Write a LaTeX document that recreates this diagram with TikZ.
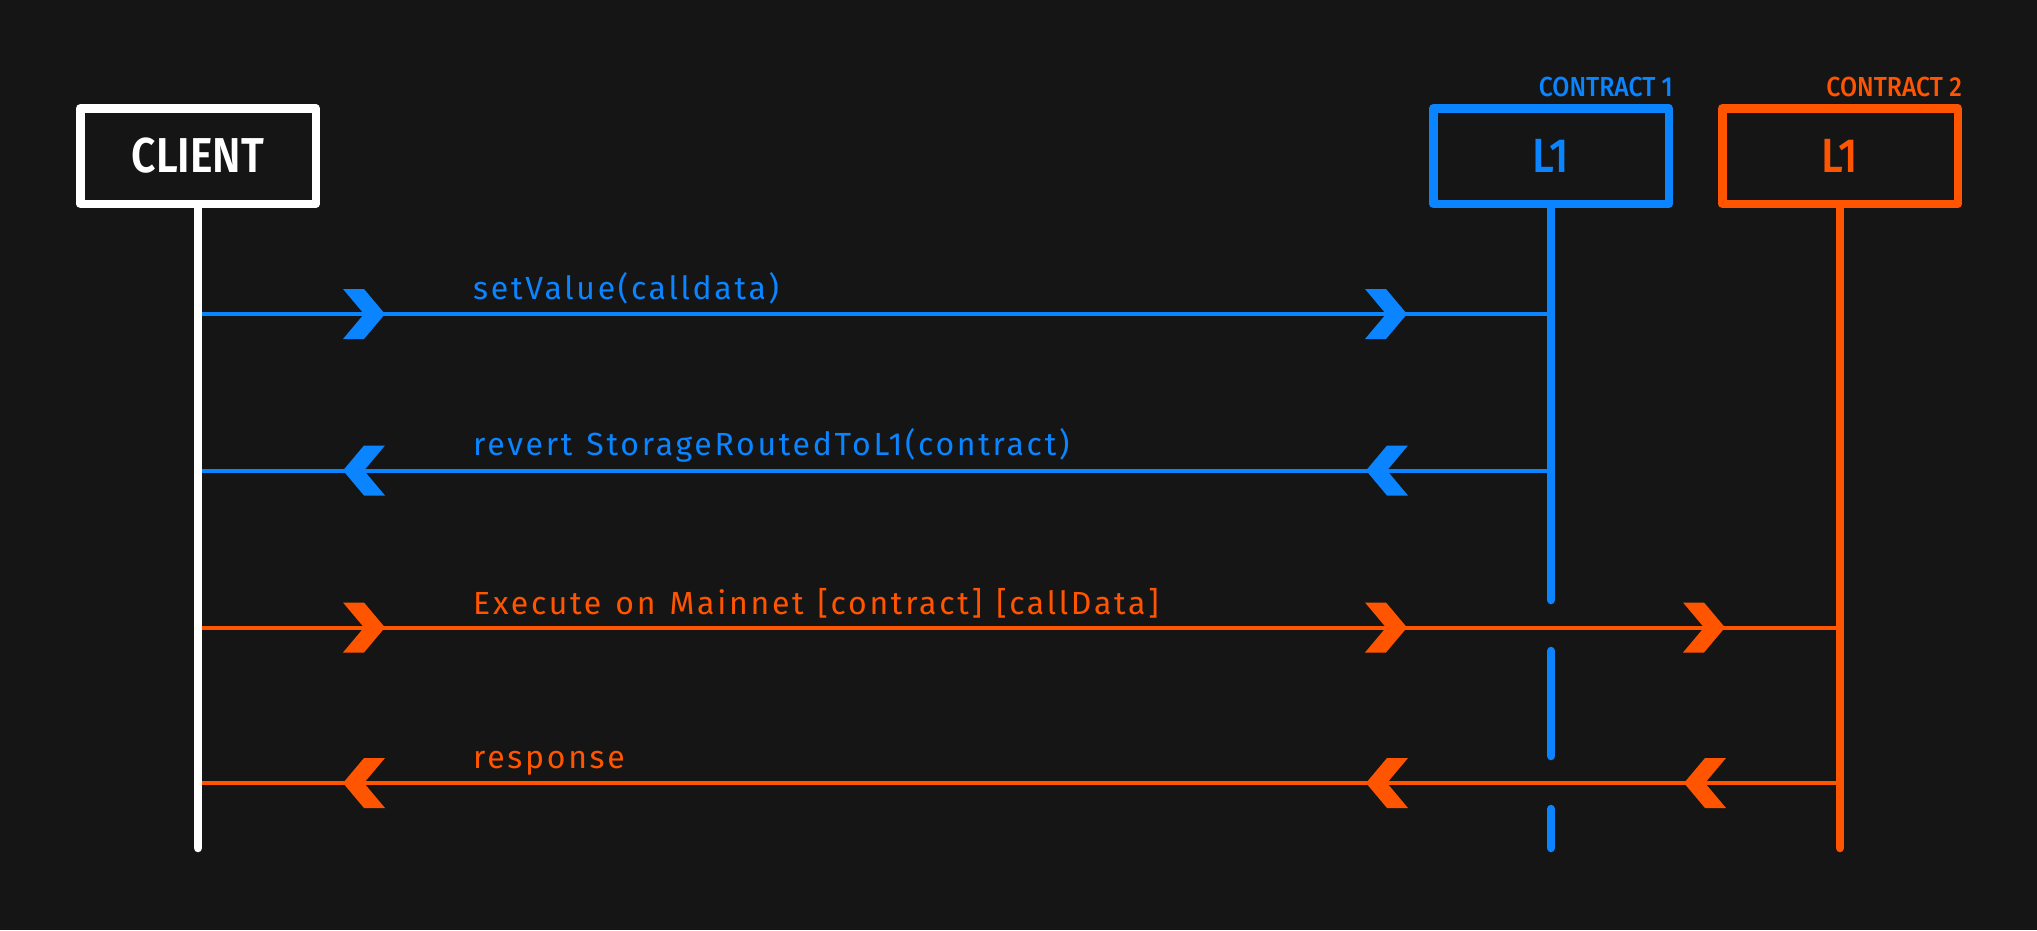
\documentclass[tikz,border=0pt]{standalone}
\usepackage{fontspec}
\setmainfont{Fira Sans}
\newfontfamily\titlefont{Fira Sans}[UprightFont=* SemiBold]
\newfontfamily\medfont{Fira Sans}[UprightFont=* Medium]
\newfontfamily\msgfont{Fira Sans}[LetterSpace=8.5, WordSpace=1.25]
\definecolor{bg}{RGB}{21,21,21}
\definecolor{cblue}{RGB}{10,132,255}
\definecolor{corange}{RGB}{255,85,0}
\begin{document}
\begin{tikzpicture}[x=1pt,y=-1pt,
  box/.style={draw, line width=8.5pt, line join=round, minimum width=235.5pt,
    minimum height=95.5pt, inner sep=0pt, fill=bg},
  life/.style={line width=8.5pt, line cap=round},
  msg/.style={line width=4pt},
  msglabel/.style={anchor=base west, inner sep=0pt, font=\msgfont\fontsize{32}{38}\selectfont},
  tag/.style={anchor=base east, inner sep=0pt, font=\medfont\fontsize{27.5}{33}\selectfont},
  chev/.pic={\fill (-42,-25) -- (-21,-25) -- (0,0) -- (-21,25) -- (-42,25) -- (-21,0) -- cycle;}
]
\fill[bg] (0,0) rectangle (2037,930);
\useasboundingbox (0,0) rectangle (2037,930);

% lifeline ends
\coordinate (clientend) at (198,848);
\coordinate (c1solid) at (1551,600);
\coordinate (c1d1a) at (1551,651);
\coordinate (c1d1b) at (1551,756);
\coordinate (c1d2a) at (1551,809);
\coordinate (c1d2b) at (1551,848);
\coordinate (c2end) at (1840,848);

% boxes
\node[box, draw=white, text=white, font=\titlefont\fontsize{49}{58}\selectfont]
  (client) at (198,156) {\raisebox{-2.5pt}{\scalebox{0.87}[1]{CLIENT}}};
\node[box, draw=cblue, text=cblue, font=\medfont\fontsize{48}{58}\selectfont]
  (c1) at (1551,156) {\raisebox{-2.5pt}{\scalebox{0.9}[1]{L1}}};
\node[box, draw=corange, text=corange, font=\medfont\fontsize{48}{58}\selectfont]
  (c2) at (1840,156) {\raisebox{-2.5pt}{\scalebox{0.9}[1]{L1}}};

\node[tag, text=cblue] (t1) at (1673,96) {\scalebox{0.9}[1]{CONTRACT 1}};
\node[tag, text=corange] (t2) at (1962,96) {\scalebox{0.9}[1]{CONTRACT 2}};

% messages (drawn under the lifelines)
\draw[msg, cblue] (client.south |- 0,314) -- (c1.south |- 0,314);
\draw[msg, cblue] (client.south |- 0,470.5) -- (c1.south |- 0,470.5);
\draw[msg, corange] (client.south |- 0,627.5) -- (c2.south |- 0,627.5);
\draw[msg, corange] (client.south |- 0,783) -- (c2.south |- 0,783);

% lifelines
\draw[life, white] (client.south) -- (clientend);
\draw[life, cblue] (c1.south) -- (c1solid);
\draw[life, cblue] (c1d1a) -- (c1d1b);
\draw[life, cblue] (c1d2a) -- (c1d2b);
\draw[life, corange] (c2.south) -- (c2end);

% chevrons
\pic[cblue] at (385,314) {chev};
\pic[cblue] at (1407,314) {chev};
\pic[cblue, xscale=-1] at (343,470.5) {chev};
\pic[cblue, xscale=-1] at (1366,470.5) {chev};
\pic[corange] at (385,627.5) {chev};
\pic[corange] at (1407,627.5) {chev};
\pic[corange] at (1725,627.5) {chev};
\pic[corange, xscale=-1] at (343,783) {chev};
\pic[corange, xscale=-1] at (1366,783) {chev};
\pic[corange, xscale=-1] at (1684,783) {chev};

% labels
\node[msglabel, text=cblue] (m1) at (473,299) {setValue(calldata)};
\node[msglabel, text=cblue] (m2) at (473,455) {revert StorageRoutedToL1(contract)};
\node[msglabel, text=corange] (m3) at (473,614) {Execute on Mainnet [contract] [callData]};
\node[msglabel, text=corange] (m4) at (473,768) {response};
\end{tikzpicture}
\end{document}
